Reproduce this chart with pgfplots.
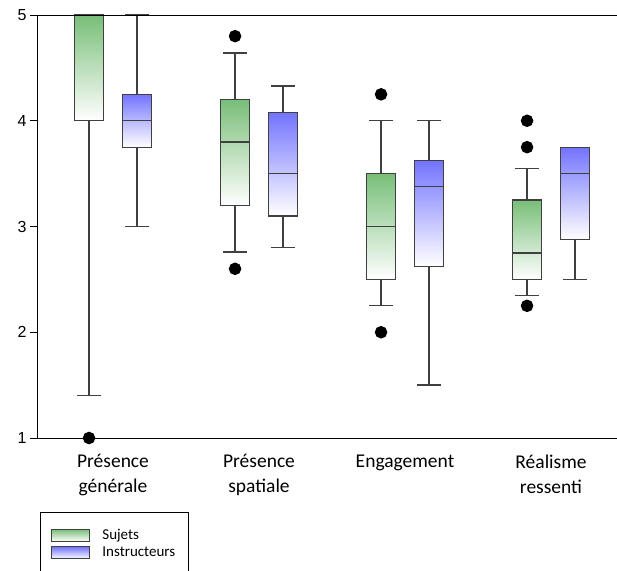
\documentclass[border=0pt]{standalone}
\usepackage{fontspec}
\setmainfont{Carlito}
\newfontfamily\arialfont{Liberation Sans}
\usepackage{pgfplots}
\pgfplotsset{compat=1.18}
\usepgfplotslibrary{statistics}

\definecolor{boxgreen}{RGB}{120,190,120}
\definecolor{boxblue}{RGB}{115,115,255}
\definecolor{boxline}{RGB}{64,64,64}

\pgfplotsset{
  basebox/.style={forget plot, draw=boxline, line width=1.3pt,
    mark=*, mark size=5.6pt, mark options={fill=black, draw=black, solid},
    boxplot/box extend=0.2, boxplot/whisker extend=0.16},
  sujets/.style={basebox,
    boxplot/every box/.style={top color=boxgreen, bottom color=white}},
  instr/.style={basebox,
    boxplot/every box/.style={top color=boxblue, bottom color=white}},
}

\begin{document}
\begin{tikzpicture}
\begin{axis}[
  scale only axis, width=580pt, height=423pt,
  xmin=-0.5205, xmax=3.452, ymin=1, ymax=5,
  axis lines=left, axis line style={-, black, line width=0.8pt},
  clip=false,
  boxplot/draw direction=y,
  xtick={0,1,2,3},
  xticklabels={{Présence\\générale},{Présence\\spatiale},{Engagement},{Réalisme\\ressenti}},
  x tick label style={align=center, font=\fontsize{19.5}{25}\selectfont, yshift=-6pt},
  x tick style={draw=none},
  ytick={1,2,3,4,5},
  y tick label style={font=\arialfont\fontsize{16}{19}\selectfont},
  /pgf/number format/assume math mode=true,
  tick align=outside, major tick length=7pt,
  y tick style={black, line width=0.8pt},
  extra description/.code={\draw[black, line width=0.8pt] (0,1) -- (1,1);},
  legend style={at={(0.00517,-0.175)}, anchor=north west,
    draw=black, line width=0.8pt, inner xsep=11pt, inner ysep=15pt,
    row sep=2pt, font=\fontsize{15}{18}\selectfont,
    /tikz/every odd column/.append style={column sep=10pt}},
  legend cell align=left,
]
\addlegendimage{legend image code/.code={\draw[top color=boxgreen, bottom color=white, draw=boxline, line width=1pt] (0pt,-6pt) rectangle (38pt,6pt);}}
\addlegendentry{Sujets}
\addlegendimage{legend image code/.code={\draw[top color=boxblue, bottom color=white, draw=boxline, line width=1pt] (0pt,-6pt) rectangle (38pt,6pt);}}
\addlegendentry{Instructeurs}

% Présence générale
\addplot[sujets, boxplot prepared={draw position=-0.164,
  lower whisker=1.4, lower quartile=4, median=5, upper quartile=5, upper whisker=5}]
  coordinates {(0,1)};
\addplot[instr, boxplot prepared={draw position=0.164,
  lower whisker=3, lower quartile=3.75, median=4, upper quartile=4.25, upper whisker=5}]
  coordinates {};
% Présence spatiale
\addplot[sujets, boxplot prepared={draw position=0.836,
  lower whisker=2.76, lower quartile=3.2, median=3.8, upper quartile=4.2, upper whisker=4.64}]
  coordinates {(1,4.8) (1,2.6)};
\addplot[instr, boxplot prepared={draw position=1.164,
  lower whisker=2.8, lower quartile=3.1, median=3.5, upper quartile=4.08, upper whisker=4.33}]
  coordinates {};
% Engagement
\addplot[sujets, boxplot prepared={draw position=1.836,
  lower whisker=2.25, lower quartile=2.5, median=3, upper quartile=3.5, upper whisker=4}]
  coordinates {(2,4.25) (2,2)};
\addplot[instr, boxplot prepared={draw position=2.164,
  lower whisker=1.5, lower quartile=2.625, median=3.375, upper quartile=3.625, upper whisker=4}]
  coordinates {};
% Réalisme ressenti
\addplot[sujets, boxplot prepared={draw position=2.836,
  lower whisker=2.35, lower quartile=2.5, median=2.75, upper quartile=3.25, upper whisker=3.55}]
  coordinates {(3,4) (3,3.75) (3,2.25)};
\addplot[instr, boxplot prepared={draw position=3.164,
  lower whisker=2.5, lower quartile=2.875, median=3.5, upper quartile=3.75, upper whisker=3.75}]
  coordinates {};
\end{axis}
\pgfresetboundingbox
\path[use as bounding box] (-37pt,-132pt) rectangle (580pt,438pt);
\end{tikzpicture}
\end{document}
